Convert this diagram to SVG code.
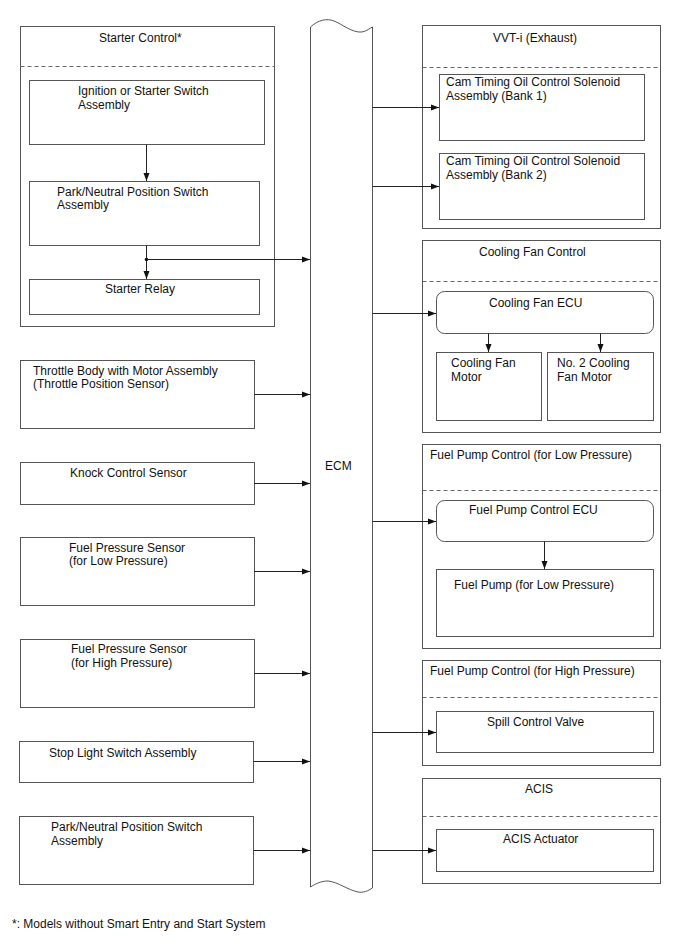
<svg xmlns="http://www.w3.org/2000/svg" width="688" height="949" viewBox="0 0 688 949">
<style>
.box{fill:#fff;stroke:#555;stroke-width:1}
.grp{fill:#fff;stroke:#555;stroke-width:1}
.dash{stroke:#666;stroke-width:1;stroke-dasharray:4,3;fill:none}
.ln{stroke:#222;stroke-width:1;fill:none}
text{font-family:"Liberation Sans",Arial,sans-serif;font-size:12px;fill:#111}
</style>
<defs>
<marker id="ah" markerUnits="userSpaceOnUse" markerWidth="9" markerHeight="7" refX="8" refY="3.5" orient="auto">
<path d="M0,0.5 L8,3.5 L0,6.5 z" fill="#111"/>
</marker>
</defs>
<rect width="688" height="949" fill="#fff"/>

<g id="starter-control">
<rect class="grp" x="20.5" y="26.5" width="254" height="300"/>
<line class="dash" x1="20.5" y1="66.5" x2="274.5" y2="66.5"/>
<text x="99" y="42">Starter Control*</text>
</g>
<g id="ignition-switch">
<rect class="box" x="29.5" y="80.5" width="235" height="64"/>
<text x="78" y="95">Ignition or Starter Switch</text>
<text x="78" y="109">Assembly</text>
</g>
<g id="pn-switch-1">
<rect class="box" x="29.5" y="181.5" width="230" height="64"/>
<text x="57" y="196">Park/Neutral Position Switch</text>
<text x="57" y="209">Assembly</text>
</g>
<g id="starter-relay">
<rect class="box" x="29.5" y="279.5" width="230" height="35"/>
<text x="105" y="293">Starter Relay</text>
</g>

<g id="ecm">
<path class="box" d="M310.5,27 C318,20 327,18 334,21 C342,24 352,33 362,32 C367,31 370,28 372.5,27 L372.5,888 C368,891 363,893 358,892 C348,890 338,882 328,881 C321,881 315,884 310.5,887 Z"/>
<text x="325" y="470">ECM</text>
</g>

<g id="throttle">
<rect class="box" x="20.5" y="360.5" width="234" height="68"/>
<text x="33" y="375">Throttle Body with Motor Assembly</text>
<text x="33" y="388">(Throttle Position Sensor)</text>
</g>
<g id="knock">
<rect class="box" x="20.5" y="462.5" width="234" height="42"/>
<text x="70" y="477">Knock Control Sensor</text>
</g>
<g id="fuel-low-sensor">
<rect class="box" x="20.5" y="537.5" width="234" height="68"/>
<text x="69" y="552">Fuel Pressure Sensor</text>
<text x="69" y="565">(for Low Pressure)</text>
</g>
<g id="fuel-high-sensor">
<rect class="box" x="20.5" y="639.5" width="234" height="68"/>
<text x="71" y="653">Fuel Pressure Sensor</text>
<text x="71" y="667">(for High Pressure)</text>
</g>
<g id="stop-light">
<rect class="box" x="19.5" y="741.5" width="234" height="41"/>
<text x="49" y="757">Stop Light Switch Assembly</text>
</g>
<g id="pn-switch-2">
<rect class="box" x="19.5" y="816.5" width="234" height="68"/>
<text x="51" y="831">Park/Neutral Position Switch</text>
<text x="51" y="845">Assembly</text>
</g>

<g id="vvti">
<rect class="grp" x="422.5" y="25.5" width="238" height="203"/>
<line class="dash" x1="422.5" y1="67.5" x2="660.5" y2="67.5"/>
<text x="493" y="42">VVT-i (Exhaust)</text>
</g>
<g id="cam-bank1">
<rect class="box" x="439.5" y="74.5" width="205" height="66"/>
<text x="446" y="86">Cam Timing Oil Control Solenoid</text>
<text x="446" y="100">Assembly (Bank 1)</text>
</g>
<g id="cam-bank2">
<rect class="box" x="439.5" y="153.5" width="205" height="66"/>
<text x="446" y="165">Cam Timing Oil Control Solenoid</text>
<text x="446" y="179">Assembly (Bank 2)</text>
</g>

<g id="cooling-fan-control">
<rect class="grp" x="422.5" y="240.5" width="238" height="192"/>
<line class="dash" x1="422.5" y1="281.5" x2="660.5" y2="281.5"/>
<text x="479" y="256">Cooling Fan Control</text>
</g>
<g id="cooling-fan-ecu">
<rect class="box" x="436.5" y="291.5" width="217" height="42" rx="8"/>
<text x="489" y="307">Cooling Fan ECU</text>
</g>
<g id="cooling-fan-motor">
<rect class="box" x="436.5" y="352.5" width="105" height="68"/>
<text x="451" y="367">Cooling Fan</text>
<text x="451" y="381">Motor</text>
</g>
<g id="cooling-fan-motor2">
<rect class="box" x="547.5" y="352.5" width="106" height="68"/>
<text x="557" y="367">No. 2 Cooling</text>
<text x="557" y="381">Fan Motor</text>
</g>

<g id="fuel-pump-low-control">
<rect class="grp" x="422.5" y="444.5" width="238" height="204"/>
<line class="dash" x1="422.5" y1="490.5" x2="660.5" y2="490.5"/>
<text x="430" y="459">Fuel Pump Control (for Low Pressure)</text>
</g>
<g id="fuel-pump-ecu">
<rect class="box" x="436.5" y="500.5" width="217" height="41" rx="8"/>
<text x="469" y="514">Fuel Pump Control ECU</text>
</g>
<g id="fuel-pump-low">
<rect class="box" x="436.5" y="569.5" width="217" height="67"/>
<text x="454" y="589">Fuel Pump (for Low Pressure)</text>
</g>

<g id="fuel-pump-high-control">
<rect class="grp" x="422.5" y="660.5" width="238" height="105"/>
<line class="dash" x1="422.5" y1="697.5" x2="660.5" y2="697.5"/>
<text x="430" y="675">Fuel Pump Control (for High Pressure)</text>
</g>
<g id="spill-valve">
<rect class="box" x="436.5" y="711.5" width="217" height="41"/>
<text x="487" y="726">Spill Control Valve</text>
</g>

<g id="acis">
<rect class="grp" x="422.5" y="778.5" width="238" height="105"/>
<line class="dash" x1="422.5" y1="816.5" x2="660.5" y2="816.5"/>
<text x="525" y="793">ACIS</text>
</g>
<g id="acis-actuator">
<rect class="box" x="436.5" y="829.5" width="217" height="42"/>
<text x="503" y="843">ACIS Actuator</text>
</g>

<g id="connectors">
<line class="ln" x1="146.5" y1="144.5" x2="146.5" y2="181" marker-end="url(#ah)"/>
<line class="ln" x1="146.5" y1="245.5" x2="146.5" y2="279" marker-end="url(#ah)"/>
<circle cx="146.5" cy="259.5" r="1.8" fill="#111"/>
<line class="ln" x1="146.5" y1="259.5" x2="310" y2="259.5" marker-end="url(#ah)"/>
<line class="ln" x1="254.5" y1="394.5" x2="310" y2="394.5" marker-end="url(#ah)"/>
<line class="ln" x1="254.5" y1="483.5" x2="310" y2="483.5" marker-end="url(#ah)"/>
<line class="ln" x1="254.5" y1="571.5" x2="310" y2="571.5" marker-end="url(#ah)"/>
<line class="ln" x1="254.5" y1="673.5" x2="310" y2="673.5" marker-end="url(#ah)"/>
<line class="ln" x1="253.5" y1="761.5" x2="310" y2="761.5" marker-end="url(#ah)"/>
<line class="ln" x1="253.5" y1="850.5" x2="310" y2="850.5" marker-end="url(#ah)"/>
<line class="ln" x1="372.5" y1="107.5" x2="439" y2="107.5" marker-end="url(#ah)"/>
<line class="ln" x1="372.5" y1="186.5" x2="439" y2="186.5" marker-end="url(#ah)"/>
<line class="ln" x1="372.5" y1="313.5" x2="436" y2="313.5" marker-end="url(#ah)"/>
<line class="ln" x1="488.5" y1="333.5" x2="488.5" y2="352" marker-end="url(#ah)"/>
<line class="ln" x1="600.5" y1="333.5" x2="600.5" y2="352" marker-end="url(#ah)"/>
<line class="ln" x1="372.5" y1="521.5" x2="436" y2="521.5" marker-end="url(#ah)"/>
<line class="ln" x1="544.5" y1="541.5" x2="544.5" y2="569" marker-end="url(#ah)"/>
<line class="ln" x1="372.5" y1="732.5" x2="436" y2="732.5" marker-end="url(#ah)"/>
<line class="ln" x1="372.5" y1="850.5" x2="436" y2="850.5" marker-end="url(#ah)"/>
</g>

<text x="12" y="928">*: Models without Smart Entry and Start System</text>
</svg>
